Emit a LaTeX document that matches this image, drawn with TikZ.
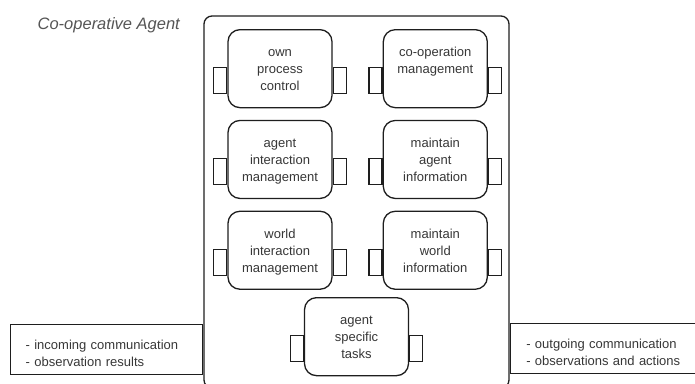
\documentclass[tikz,border=0pt]{standalone}
\usepackage{fontspec}
\setmainfont{Liberation Sans}
\usepackage{tikz}
\usetikzlibrary{positioning}

\definecolor{linegrey}{RGB}{30,30,30}
\definecolor{textgrey}{RGB}{55,55,55}
\definecolor{titlegrey}{RGB}{85,85,85}

\begin{document}
\begin{tikzpicture}[x=1pt,y=-1pt,
  line width=1.3pt,draw=linegrey,
  agent/.style={draw,rectangle,rounded corners=8pt,minimum width=305pt,minimum height=372pt,inner sep=0pt},
  module/.style={draw,fill=white,rectangle,rounded corners=12pt,text width=100pt,inner xsep=2pt,inner ysep=0pt,
    text height=27pt,text depth=51pt,align=center,text=textgrey,font=\fontsize{13}{17}\selectfont},
  port/.style={draw,fill=white,rectangle,minimum width=13pt,minimum height=26pt,inner sep=0pt},
  iobox/.style={draw,rectangle,inner ysep=0pt,text height=25pt,text depth=25pt,align=left,
    text=textgrey,font=\fontsize{13}{17}\selectfont},
  title/.style={font=\fontsize{16.5}{19}\selectfont\itshape,text=titlegrey,inner sep=0pt}]

  \useasboundingbox (0,0) rectangle (695,383);
  \clip (0,0) rectangle (695,383);

  \node[title,anchor=base west] (name) at (37,29) {Co-operative Agent};

  % the agent
  \node[agent] (agent) at (356.5,202) {};

  % its modules
  \node[module,anchor=north] (opc) at (280,29) {own\\process\\control};
  \node[module,right=50pt of opc] (com) {co-operation\\management};
  \node[module,below=11.5pt of opc] (aim) {agent\\interaction\\management};
  \node[module,below=11.5pt of com] (mai) {maintain\\agent\\information};
  \node[module,below=11.5pt of aim] (wim) {world\\interaction\\management};
  \node[module,below=11.5pt of mai] (mwi) {maintain\\world\\information};
  \node[module,anchor=north] (ast) at (356.5,297) {agent\\specific\\tasks};

  \foreach \m in {opc,com,aim,mai,wim,mwi,ast}{
    \node[port,anchor=east] (\m-in) at ([yshift=-12pt]\m.west) {};
    \node[port,anchor=west] (\m-out) at ([yshift=-12pt]\m.east) {};
  }

  % input and output
  \node[iobox,anchor=north east,text width=162pt,inner xsep=15pt] (input) at (agent.west |- 0,324)
    {- incoming communication\\- observation results};
  \node[iobox,anchor=north west,text width=200pt,inner xsep=16pt] (output) at (agent.east |- 0,323)
    {- outgoing communication\\- observations and actions};

\end{tikzpicture}
\end{document}
